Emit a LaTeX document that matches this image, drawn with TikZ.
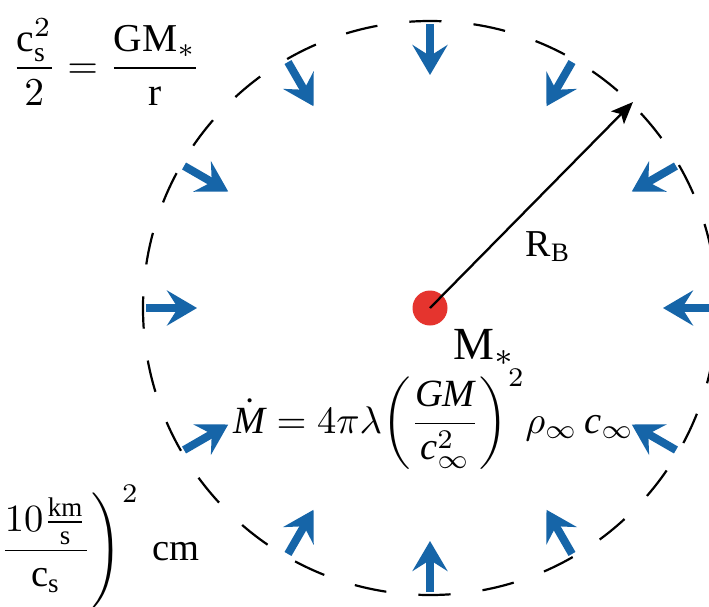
\documentclass[tikz,border=0pt]{standalone}
\usepackage{fontspec}
\setmainfont{Liberation Serif}
\usetikzlibrary{arrows.meta,calc}
\definecolor{flowblue}{RGB}{22,101,168}
\definecolor{starred}{RGB}{229,52,46}
\begin{document}
\begin{tikzpicture}[x=1pt,y=-1pt,
  inflow/.style={draw=flowblue, line width=8pt,
    -{Stealth[length=30pt,width=35pt,inset=11pt,fill=flowblue]}},
  radiusarrow/.style={draw=black, line width=2.3pt,
    -{Stealth[length=22pt,width=18pt,inset=5pt]}},
  bondi/.style={draw=black, line width=2.2pt,
    dash pattern=on 32.2pt off 32.2pt, dash phase=11.4pt},
  lbl/.style={inner sep=0pt, font=\fontsize{10}{12}\selectfont}]
\useasboundingbox (0,0) rectangle (709,606);
\clip (0,0) rectangle (709,606);
\fill[white] (0,0) rectangle (709,606);
% Bondi sphere
\coordinate (c) at (430,308);
\draw[bondi] (c) circle[radius=287pt];
% inflow arrows
\foreach \a in {0,30,...,330}{
  \coordinate (t\a) at ($(c)+(\a:284)$);
  \coordinate (h\a) at ($(c)+(\a:233)$);
  \draw[inflow] (t\a) -- (h\a);
}
% star
\node[circle, fill=starred, minimum size=35pt, inner sep=0pt] (star) at (c) {};
\coordinate (rb) at (633,102);
\draw[radiusarrow] (star.center) -- (rb);
% labels
\node[lbl, scale=3.8, anchor=base west] (rblabel) at (525,256) {$\mathrm{R}_{\mathrm{B}}$};
\node[lbl, scale=4.6, anchor=base west] (mlabel) at (453,359) {$\mathrm{M}_{*}$};
\node[lbl, scale=3.95, anchor=base west] (bern) at (11,78)
  {$\displaystyle\frac{\mathrm{c}_{\mathrm{s}}^{2}}{2}=\frac{\mathrm{GM}_{*}}{\mathrm{r}}$};
\node[lbl, scale=3.85, anchor=base east] (rbval) at (200,560)
  {$\displaystyle\left(\frac{10\frac{\mathrm{km}}{\mathrm{s}}}{\mathrm{c}_{\mathrm{s}}}\right)^{2}\,\mathrm{cm}$};
\node[lbl, scale=3.85, anchor=base west] (mdot) at (233,433)
  {$\displaystyle\dot{\mathit{M}}=4\pi\lambda{\left(\frac{\mathit{GM}}{\mathit{c}_{\infty}^{2}}\right)^{2}}\rho_{\infty}\,\mathit{c}_{\infty}$};
\end{tikzpicture}
\end{document}
